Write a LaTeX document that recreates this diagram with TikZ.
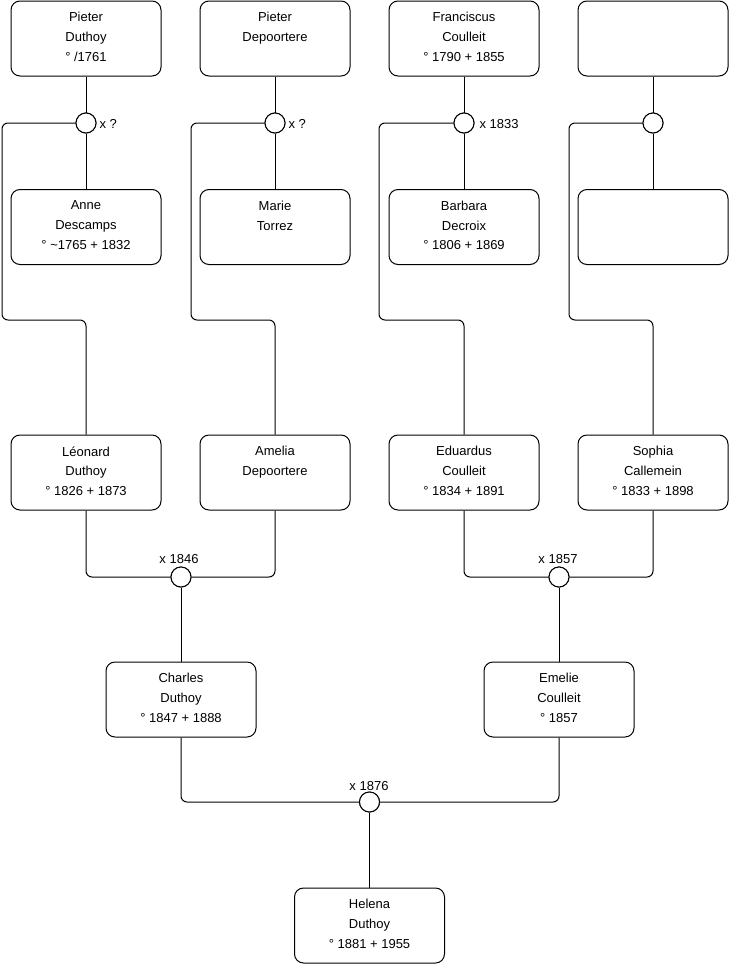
\documentclass[tikz,border=0pt]{standalone}
\usepackage{fontspec}
\setmainfont{Liberation Sans}
\begin{document}
\begin{tikzpicture}[x=1pt,y=-1pt,line width=1pt,
  person/.style={draw,rounded corners=9pt,minimum width=150pt,minimum height=75pt,inner sep=0pt},
  ptext/.style={anchor=north,inner sep=0pt,align=center,font=\fontsize{13}{19.7}\selectfont},
  union/.style={draw,circle,fill=white,minimum size=20pt,inner sep=0pt},
  lbl/.style={inner sep=0pt,font=\fontsize{13}{16}\selectfont},
  link/.style={rounded corners=6pt}]
\useasboundingbox (0,0) rectangle (740,975);
% boxes
\node[person] (a1) at (86,38.5) {};
\node[person] (a2) at (275,38.5) {};
\node[person] (a3) at (464,38.5) {};
\node[person] (a4) at (653,38.5) {};
\node[person] (b1) at (86,227) {};
\node[person] (b2) at (275,227) {};
\node[person] (b3) at (464,227) {};
\node[person] (b4) at (653,227) {};
\node[person] (c1) at (86,472.5) {};
\node[person] (c2) at (275,472.5) {};
\node[person] (c3) at (464,472.5) {};
\node[person] (c4) at (653,472.5) {};
\node[person] (d1) at (181,699.5) {};
\node[person] (d2) at (559,699.5) {};
\node[person] (e) at (369.5,925.5) {};
% texts
\node[ptext] (ta1) at ([yshift=-11.5pt]a1.north) {Pieter\\Duthoy\\° /1761};
\node[ptext] (ta2) at ([yshift=-11.5pt]a2.north) {Pieter\\Depoortere};
\node[ptext] (ta3) at ([yshift=-11.5pt]a3.north) {Franciscus\\Coulleit\\° 1790 + 1855};
\node[ptext] (tb1) at ([yshift=-11.5pt]b1.north) {Anne\\Descamps\\° \textasciitilde1765 + 1832};
\node[ptext] (tb2) at ([yshift=-11.5pt]b2.north) {Marie\\Torrez};
\node[ptext] (tb3) at ([yshift=-11.5pt]b3.north) {Barbara\\Decroix\\° 1806 + 1869};
\node[ptext] (tc1) at ([yshift=-11.5pt]c1.north) {Léonard\\Duthoy\\° 1826 + 1873};
\node[ptext] (tc2) at ([yshift=-11.5pt]c2.north) {Amelia\\Depoortere};
\node[ptext] (tc3) at ([yshift=-11.5pt]c3.north) {Eduardus\\Coulleit\\° 1834 + 1891};
\node[ptext] (tc4) at ([yshift=-11.5pt]c4.north) {Sophia\\Callemein\\° 1833 + 1898};
\node[ptext] (td1) at ([yshift=-11.5pt]d1.north) {Charles\\Duthoy\\° 1847 + 1888};
\node[ptext] (td2) at ([yshift=-11.5pt]d2.north) {Emelie\\Coulleit\\° 1857};
\node[ptext] (te) at ([yshift=-11.5pt]e.north) {Helena\\Duthoy\\° 1881 + 1955};
% union points
\node[union] (m1) at (86,123) {};
\node[union] (m2) at (275,123) {};
\node[union] (m3) at (464,123) {};
\node[union] (m4) at (653,123) {};
\node[union] (m5) at (181,577) {};
\node[union] (m6) at (559,577) {};
\node[union] (m7) at (369.5,802) {};
% bend points
\coordinate (k1) at (2,320);
\coordinate (k2) at (191,320);
\coordinate (k3) at (379,320);
\coordinate (k4) at (569,320);
% connectors
\draw (a1) -- (m1); \draw (m1) -- (b1);
\draw (a2) -- (m2); \draw (m2) -- (b2);
\draw (a3) -- (m3); \draw (m3) -- (b3);
\draw (a4) -- (m4); \draw (m4) -- (b4);
\draw[link] (m1.west) -| (k1) -| (c1.north);
\draw[link] (m2.west) -| (k2) -| (c2.north);
\draw[link] (m3.west) -| (k3) -| (c3.north);
\draw[link] (m4.west) -| (k4) -| (c4.north);
\draw[link] (c1.south) |- (m5.west);
\draw[link] (c2.south) |- (m5.east);
\draw[link] (c3.south) |- (m6.west);
\draw[link] (c4.south) |- (m6.east);
\draw (m5) -- (d1);
\draw (m6) -- (d2);
\draw[link] (d1.south) |- (m7.west);
\draw[link] (d2.south) |- (m7.east);
\draw (m7) -- (e.north);
% redraw circles on top
\node[union] at (m1) {};
\node[union] at (m2) {};
\node[union] at (m3) {};
\node[union] at (m4) {};
\node[union] at (m5) {};
\node[union] at (m6) {};
\node[union] at (m7) {};
% labels
\node[lbl,anchor=base west] (l1) at (99,128) {x ?};
\node[lbl,anchor=base west] (l2) at (288,128) {x ?};
\node[lbl,anchor=base west] (l3) at (479,128) {x 1833};
\node[lbl,anchor=base] (l5) at (179,563) {x 1846};
\node[lbl,anchor=base] (l6) at (558,563) {x 1857};
\node[lbl,anchor=base] (l7) at (369,790) {x 1876};
\end{tikzpicture}
\end{document}
